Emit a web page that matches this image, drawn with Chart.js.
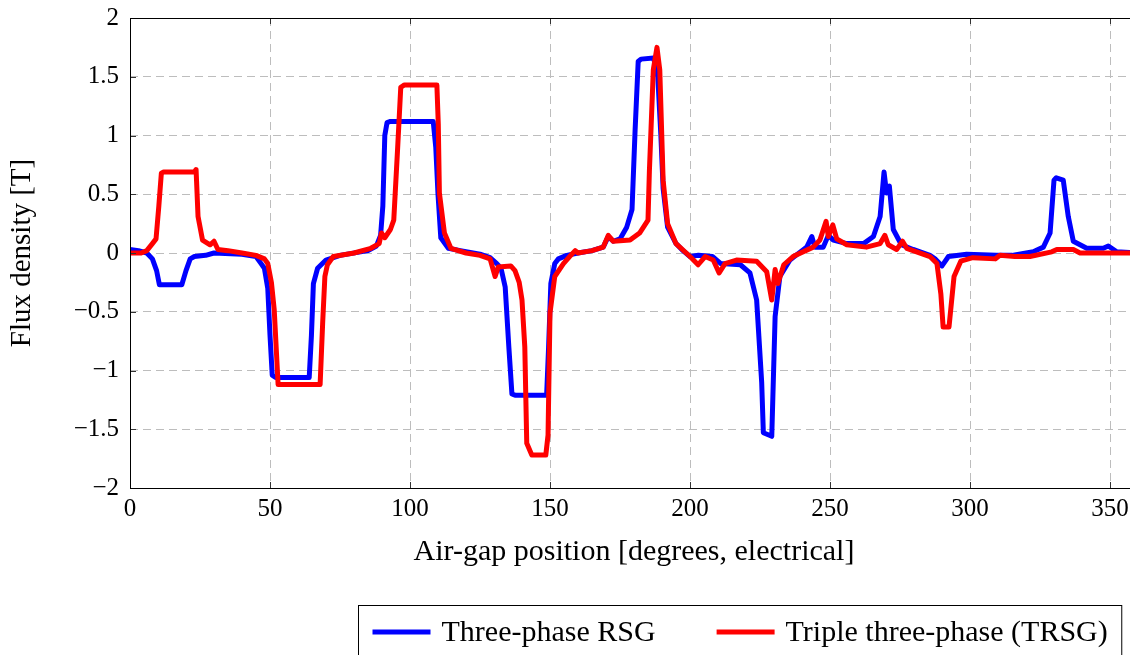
<!DOCTYPE html>
<html>
<head>
<meta charset="utf-8">
<script src="https://cdn.jsdelivr.net/npm/chart.js@4.4.1/dist/chart.umd.min.js"></script>
<style>
    html, body { margin: 0; padding: 0; background: #fff; overflow: hidden; }
    #wrap { position: relative; width: 1145px; height: 655px; }
</style>
</head>
<body>
<div id="wrap"><canvas id="fluxChart"></canvas></div>
<script>
// =========================
// DATA
// =========================
const rsgX = [0, 3, 6, 8, 9.5, 10.5, 18.5, 20, 21.5, 23, 27, 30, 40, 45, 46.5, 48, 49.2, 50, 50.8, 52, 64, 64.8, 65.5, 67, 70, 75, 85, 88, 89.5, 90.3, 91, 91.8, 93,
    108.3, 109.2, 110, 111, 113.7, 118, 125, 128.6, 131, 132.5, 134, 135.3, 136.4, 137.5, 148.8, 149.5, 150.3, 151.7, 153, 156, 160, 165, 169, 170.8, 172.6, 175,
    177.4, 179.3, 180.4, 181.5, 182.5, 187, 188.5, 189.6, 190.4, 192, 195, 197.5, 200, 203, 208, 211, 218, 221.4, 223.8, 225.6, 226.2, 229.2, 230.4, 232.1,
    235.7, 240, 241.7, 243.5, 244.6, 247.6, 249.4, 251.2, 256, 262, 265.5, 267.9, 269.3, 270.2, 271.2, 272.6, 275.5, 279.7, 285.7, 287.5, 290, 292.3, 298.8,
    309.5, 315, 322.6, 326.2, 328.6, 330, 330.8, 333.3, 335.1, 336.9, 341.7, 347.6, 349.4, 352.4, 360];
const rsgY = [0.03, 0.02, 0.0, -0.05, -0.15, -0.27, -0.27, -0.15, -0.05, -0.03, -0.02, 0.0, -0.01, -0.03, -0.08, -0.13, -0.3, -0.7, -1.04, -1.06, -1.06, -0.7, -0.26, -0.13, -0.06, -0.02, 0.02, 0.06, 0.15, 0.4, 1.0, 1.11, 1.12,
    1.12, 0.9, 0.5, 0.13, 0.04, 0.02, -0.01, -0.04, -0.09, -0.13, -0.29, -0.8, -1.2, -1.21, -1.21, -0.8, -0.26, -0.09, -0.05, -0.02, 0.0, 0.02, 0.05, 0.14, 0.1, 0.12,
    0.22, 0.37, 1.05, 1.63, 1.65, 1.66, 1.5, 1.0, 0.55, 0.22, 0.08, 0.02, -0.03, -0.02, -0.03, -0.09, -0.1, -0.17, -0.4, -1.1, -1.53, -1.56, -0.54, -0.2,
    -0.06, 0.02, 0.05, 0.14, 0.05, 0.05, 0.15, 0.11, 0.08, 0.08, 0.14, 0.31, 0.69, 0.51, 0.57, 0.2, 0.07, 0.03, -0.02, -0.05, -0.11, -0.03, -0.01,
    -0.02, -0.02, 0.01, 0.05, 0.17, 0.62, 0.64, 0.62, 0.31, 0.1, 0.04, 0.04, 0.06, 0.01, 0.0];

const trsgX = [0, 4, 6, 8, 9.3, 10.3, 11.2, 12, 23, 23.6, 24.3, 25.9, 28.6, 30, 31.4, 35, 40, 45, 48, 49.2, 50.5, 51.5, 52.9, 67.9, 68.8, 69.6, 70.5, 72.6, 80,
    86, 89, 89.8, 91, 93, 94.2, 95.6, 96.7, 98, 109.6, 110.1, 110.5, 112.3, 114.6, 120, 125, 128.6, 130.4, 131.5, 136, 137.5, 139, 140, 141, 141.7, 143.5,
    148.5, 149.3, 150, 151.7, 154.8, 157, 159, 160, 165, 169, 170.8, 172.6, 178.6, 182, 185, 185.5, 186.9, 188.2, 189.2, 190.4, 192, 195, 200, 202.9, 205.4,
    208.3, 210.4, 212.5, 216.6, 223.8, 227.4, 229.2, 230.4, 231.4, 233.5, 236.8, 244, 246.4, 248.6, 249.4, 251, 252.4, 256, 263, 267.9, 269.6, 270.8, 273.8,
    275.9, 277.4, 285.7, 288.2, 289.6, 290.4, 292.5, 294.3, 296.7, 301, 309, 310.7, 316, 321.4, 329.2, 331, 336.9, 339.3, 360];
const trsgY = [0.0, 0.0, 0.02, 0.08, 0.12, 0.4, 0.68, 0.69, 0.69, 0.71, 0.31, 0.11, 0.07, 0.1, 0.03, 0.02, 0.0, -0.02, -0.05, -0.09, -0.25, -0.48, -1.12, -1.12, -0.6, -0.2, -0.1, -0.03, 0.0,
    0.04, 0.08, 0.17, 0.13, 0.2, 0.28, 0.9, 1.41, 1.43, 1.43, 1.1, 0.51, 0.17, 0.04, 0.0, -0.02, -0.05, -0.2, -0.12, -0.11, -0.15, -0.25, -0.4, -0.8, -1.62, -1.72,
    -1.72, -1.55, -0.51, -0.2, -0.09, -0.03, 0.02, 0.0, 0.02, 0.05, 0.15, 0.1, 0.11, 0.17, 0.28, 0.7, 1.56, 1.75, 1.56, 0.62, 0.25, 0.08, -0.03, -0.1, -0.03,
    -0.06, -0.17, -0.09, -0.06, -0.07, -0.16, -0.4, -0.14, -0.26, -0.1, -0.03, 0.05, 0.11, 0.27, 0.14, 0.24, 0.12, 0.07, 0.05, 0.08, 0.15, 0.07, 0.03,
    0.1, 0.04, -0.03, -0.09, -0.35, -0.63, -0.63, -0.2, -0.07, -0.04, -0.05, -0.02, -0.03, -0.03, 0.01, 0.03, 0.03, 0.0, 0.0];

const xTicks = [0, 50, 100, 150, 200, 250, 300, 350];
const yTicks = [-2, -1.5, -1, -0.5, 0, 0.5, 1, 1.5, 2];
const seriesLabels = ['Three-phase RSG', 'Triple three-phase (TRSG)'];

function toPoints(xs, ys) {
    return xs.map(function (x, i) { return { x: x, y: ys[i] }; });
}

const SERIF = '"Liberation Serif", "Times New Roman", serif';

// =========================
// FRAME + INNER TICKS
// =========================
const framePlugin = {
    id: 'frame',
    afterDatasetsDraw(chart) {
        const ctx = chart.ctx;
        const a = chart.chartArea;
        const xs = chart.scales.x, ys = chart.scales.y;
        ctx.save();
        ctx.strokeStyle = '#333';
        ctx.lineWidth = 1;
        ctx.beginPath();
        xs.ticks.forEach(function (t) {
            const px = Math.round(xs.getPixelForValue(t.value)) + 0.5;
            ctx.moveTo(px, a.bottom); ctx.lineTo(px, a.bottom - 6);
            ctx.moveTo(px, a.top); ctx.lineTo(px, a.top + 6);
        });
        ys.ticks.forEach(function (t) {
            const py = Math.round(ys.getPixelForValue(t.value)) + 0.5;
            ctx.moveTo(a.left, py); ctx.lineTo(a.left + 6, py);
            ctx.moveTo(a.right, py); ctx.lineTo(a.right - 6, py);
        });
        ctx.stroke();
        ctx.strokeStyle = '#000';
        ctx.strokeRect(Math.round(a.left) + 0.5, Math.round(a.top) + 0.5,
            Math.round(a.right - a.left), Math.round(a.bottom - a.top));
        ctx.restore();
    }
};

// =========================
// BOXED LEGEND BELOW THE AXIS
// =========================
const boxLegendPlugin = {
    id: 'boxLegend',
    afterDraw(chart) {
        const ctx = chart.ctx;
        const sets = chart.data.datasets;
        const top = 605.5, left = 358.5, midY = 632;
        ctx.save();
        ctx.font = '30px ' + SERIF;
        ctx.textBaseline = 'middle';
        ctx.textAlign = 'left';
        let x = left + 14;
        sets.forEach(function (ds) {
            ctx.strokeStyle = ds.borderColor;
            ctx.lineWidth = 5;
            ctx.beginPath();
            ctx.moveTo(x, midY); ctx.lineTo(x + 58, midY);
            ctx.stroke();
            x += 69;
            ctx.fillStyle = '#000';
            ctx.fillText(ds.label, x, midY + 1);
            x += ctx.measureText(ds.label).width + 61;
        });
        const right = x - 61 + 14;
        ctx.strokeStyle = '#000';
        ctx.lineWidth = 1;
        ctx.strokeRect(left, top, right - left, 80);
        ctx.restore();
    }
};

const fluxCanvas = document.getElementById('fluxChart');

new Chart(fluxCanvas, {
    type: 'line',
    data: {
        datasets: [{
            label: seriesLabels[0],
            data: toPoints(rsgX, rsgY),
            borderColor: '#0000ff',
            borderWidth: 5,
            order: 2
        }, {
            label: seriesLabels[1],
            data: toPoints(trsgX, trsgY),
            borderColor: '#ff0000',
            borderWidth: 5,
            order: 1
        }]
    },
    options: {
        responsive: true,
        maintainAspectRatio: false,
        animation: false,
        layout: { padding: { left: 0, right: 7, top: 18, bottom: 85 } },
        elements: {
            point: { radius: 0 },
            line: { tension: 0, borderJoinStyle: 'round', borderCapStyle: 'round' }
        },
        plugins: {
            legend: { display: false },
            tooltip: { enabled: false }
        },
        scales: {
            x: {
                type: 'linear',
                min: 0,
                max: 360,
                afterFit: function (s) { s.height = 82; },
                afterBuildTicks: function (s) { s.ticks = xTicks.map(function (v) { return { value: v }; }); },
                grid: { color: '#bdbdbd', lineWidth: 1, drawTicks: false },
                border: { display: false, dash: [8, 5] },
                ticks: {
                    padding: 6,
                    maxRotation: 0,
                    color: '#000',
                    font: { family: SERIF, size: 25 }
                },
                title: {
                    display: true,
                    text: 'Air-gap position [degrees, electrical]',
                    color: '#000',
                    font: { family: SERIF, size: 30 },
                    padding: { top: 0, bottom: 0 }
                }
            },
            y: {
                min: -2,
                max: 2,
                afterFit: function (s) {
                    s.width = 130;
                    s.paddingTop = 0;
                    s.paddingBottom = 0;
                },
                afterBuildTicks: function (s) { s.ticks = yTicks.map(function (v) { return { value: v }; }); },
                grid: { color: '#bdbdbd', lineWidth: 1, drawTicks: false },
                border: { display: false, dash: [8, 5] },
                ticks: {
                    padding: 11,
                    color: '#000',
                    font: { family: SERIF, size: 25 },
                    callback: function (v) { return v < 0 ? '\u2212' + Math.abs(v) : String(v); }
                },
                title: {
                    display: true,
                    text: 'Flux density [T]',
                    color: '#000',
                    font: { family: SERIF, size: 29 },
                    padding: { top: 5, bottom: 0 }
                }
            }
        }
    },
    plugins: [framePlugin, boxLegendPlugin]
});
</script>
</body>
</html>
